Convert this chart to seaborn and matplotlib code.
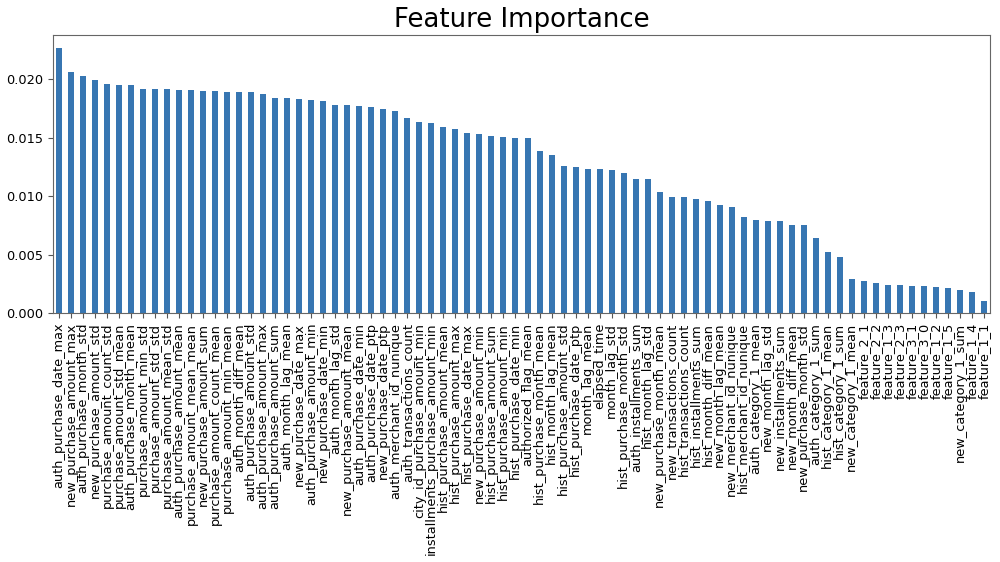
import matplotlib
matplotlib.use("Agg")
import matplotlib.pyplot as plt
import seaborn as sns
import pandas as pd

features = [
    "auth_purchase_date_max", "new_purchase_amount_max", "auth_purchase_month_std",
    "new_purchase_amount_std", "purchase_amount_count_std", "purchase_amount_std_mean",
    "auth_purchase_month_mean", "purchase_amount_min_std", "purchase_amount_std_std",
    "purchase_amount_mean_std", "auth_purchase_amount_mean", "purchase_amount_mean_mean",
    "new_purchase_amount_sum", "purchase_amount_count_mean", "purchase_amount_min_mean",
    "auth_month_diff_mean", "auth_purchase_amount_std", "auth_purchase_amount_max",
    "auth_purchase_amount_sum", "auth_month_lag_mean", "new_purchase_date_max",
    "auth_purchase_amount_min", "new_purchase_date_min", "auth_month_lag_std",
    "new_purchase_amount_mean", "auth_purchase_date_min", "auth_purchase_date_ptp",
    "new_purchase_date_ptp", "auth_merchant_id_nunique", "auth_transactions_count",
    "city_id_purchase_amount_min", "installments_purchase_amount_min",
    "hist_purchase_amount_mean", "hist_purchase_amount_max", "hist_purchase_date_max",
    "new_purchase_amount_min", "hist_purchase_amount_sum", "hist_purchase_amount_min",
    "hist_purchase_date_min", "authorized_flag_mean", "hist_purchase_month_mean",
    "hist_month_lag_mean", "hist_purchase_amount_std", "hist_purchase_date_ptp",
    "month_lag_mean", "elapsed_time", "month_lag_std", "hist_purchase_month_std",
    "auth_installments_sum", "hist_month_lag_std", "new_purchase_month_mean",
    "new_transactions_count", "hist_transactions_count", "hist_installments_sum",
    "hist_month_diff_mean", "new_month_lag_mean", "new_merchant_id_nunique",
    "hist_merchant_id_nunique", "auth_category_1_mean", "new_month_lag_std",
    "new_installments_sum", "new_month_diff_mean", "new_purchase_month_std",
    "auth_category_1_sum", "hist_category_1_mean", "hist_category_1_sum",
    "new_category_1_mean", "feature_2_1", "feature_2_2", "feature_1_3",
    "feature_2_3", "feature_3_1", "feature_3_0", "feature_1_2", "feature_1_5",
    "new_category_1_sum", "feature_1_4", "feature_1_1",
]

importance = [
    0.02266, 0.02061, 0.02030, 0.01993, 0.01959, 0.01953, 0.01953, 0.01919,
    0.01919, 0.01913, 0.01908, 0.01908, 0.01902, 0.01902, 0.01894, 0.01888,
    0.01888, 0.01874, 0.01840, 0.01840, 0.01828, 0.01823, 0.01817, 0.01783,
    0.01777, 0.01772, 0.01766, 0.01743, 0.01729, 0.01670, 0.01632, 0.01627,
    0.01595, 0.01573, 0.01544, 0.01527, 0.01516, 0.01502, 0.01493, 0.01493,
    0.01388, 0.01348, 0.01261, 0.01249, 0.01235, 0.01229, 0.01223, 0.01195,
    0.01144, 0.01144, 0.01031, 0.00993, 0.00993, 0.00974, 0.00959, 0.00920,
    0.00908, 0.00823, 0.00797, 0.00786, 0.00786, 0.00755, 0.00755, 0.00641,
    0.00525, 0.00477, 0.00292, 0.00275, 0.00256, 0.00244, 0.00238, 0.00233,
    0.00233, 0.00224, 0.00218, 0.00196, 0.00176, 0.00105,
]

df = pd.DataFrame({"feature": features, "importance": importance})

fig, ax = plt.subplots(figsize=(10, 5.62), dpi=100)
fig.subplots_adjust(left=0.053, right=0.99, top=0.938, bottom=0.443)

sns.barplot(data=df, x="feature", y="importance", color="#3776b2",
            saturation=1, width=0.5, ax=ax)

ax.set_title("Feature Importance", fontsize=18.7)
ax.set_xlabel("")
ax.set_ylabel("")
ax.set_xlim(-0.5, len(features) - 0.5)
ax.set_yticks([0.0, 0.005, 0.010, 0.015, 0.020])
ax.set_yticklabels(["0.000", "0.005", "0.010", "0.015", "0.020"])
ax.tick_params(axis="x", labelrotation=90, labelsize=9.3, color="#555555")
ax.tick_params(axis="y", labelsize=9.3, color="#555555")
for sp in ax.spines.values():
    sp.set_color("#666666")

fig.savefig("out.png", dpi=100)
